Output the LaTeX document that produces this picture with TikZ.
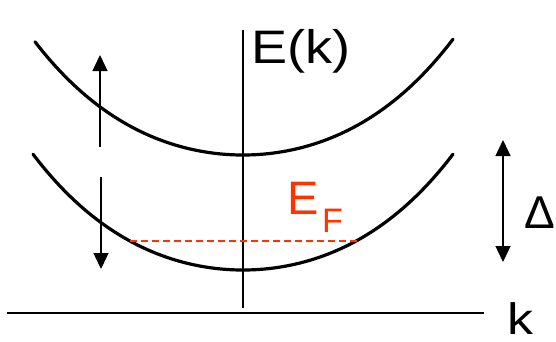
\documentclass[tikz,border=0pt]{standalone}
\usepackage{fontspec}
\setmainfont{Liberation Sans}
\usetikzlibrary{arrows.meta}
\definecolor{efred}{RGB}{255,51,0}
\tikzset{
  band/.style={line width=3.2pt, line cap=round},
  axis/.style={line width=1.4pt},
  dbl/.style={line width=1.4pt, -{Triangle[length=16pt,width=15pt]}},
  lbl/.style={inner sep=0pt, anchor=base west, font=\fontsize{46}{50}\selectfont},
}
\begin{document}
\begin{tikzpicture}[x=1pt,y=-1pt]
\useasboundingbox (0,0) rectangle (556,341);
% axes
\coordinate (ytop) at (243,30);
\coordinate (ybot) at (243,308);
\coordinate (xl) at (7,313);
\coordinate (xr) at (484,313);
\draw[axis] (ytop) -- (ybot);
\draw[axis] (xl) -- (xr);
% bands
\draw[band] plot[domain=35:453, samples=80, smooth] (\x, {155 - 0.002125*(\x-243)*(\x-243) - 1.146*((\x-243)/100)*((\x-243)/100)*((\x-243)/100)*((\x-243)/100)});
\draw[band] plot[domain=33:453, samples=80, smooth] (\x, {270 - 0.002125*(\x-243)*(\x-243) - 1.146*((\x-243)/100)*((\x-243)/100)*((\x-243)/100)*((\x-243)/100)});
% Fermi level
\coordinate (fl) at (130,241);
\coordinate (fr) at (360,241);
\draw[efred, line width=1.3pt, dash pattern=on 7pt off 4pt] (fl) -- (fr);
% spin arrows
\coordinate (ua) at (100,147);
\coordinate (ub) at (100,55);
\coordinate (da) at (101,177);
\coordinate (db) at (101,269);
\draw[dbl] (ua) -- (ub);
\draw[dbl] (da) -- (db);
% gap arrow
\coordinate (ga) at (503,140);
\coordinate (gb) at (503,262);
\draw[line width=1.4pt, {Triangle[length=16pt,width=15pt]}-{Triangle[length=16pt,width=15pt]}] (ga) -- (gb);
% labels
\node[lbl, font=\fontsize{47}{50}\selectfont] (ek) at (251,63) {\scalebox{1.15}[1]{E(k)}};
\node[lbl, text=efred, font=\fontsize{47}{50}\selectfont] (ef) at (287,214) {E};
\node[lbl, text=efred, font=\fontsize{34}{36}\selectfont] (ff) at (322,232) {F};
\node[lbl] (delta) at (524,228) {Δ};
\node[lbl, font=\fontsize{44}{50}\selectfont] (kk) at (507,334) {\scalebox{1.18}[1]{k}};
\end{tikzpicture}
\end{document}
